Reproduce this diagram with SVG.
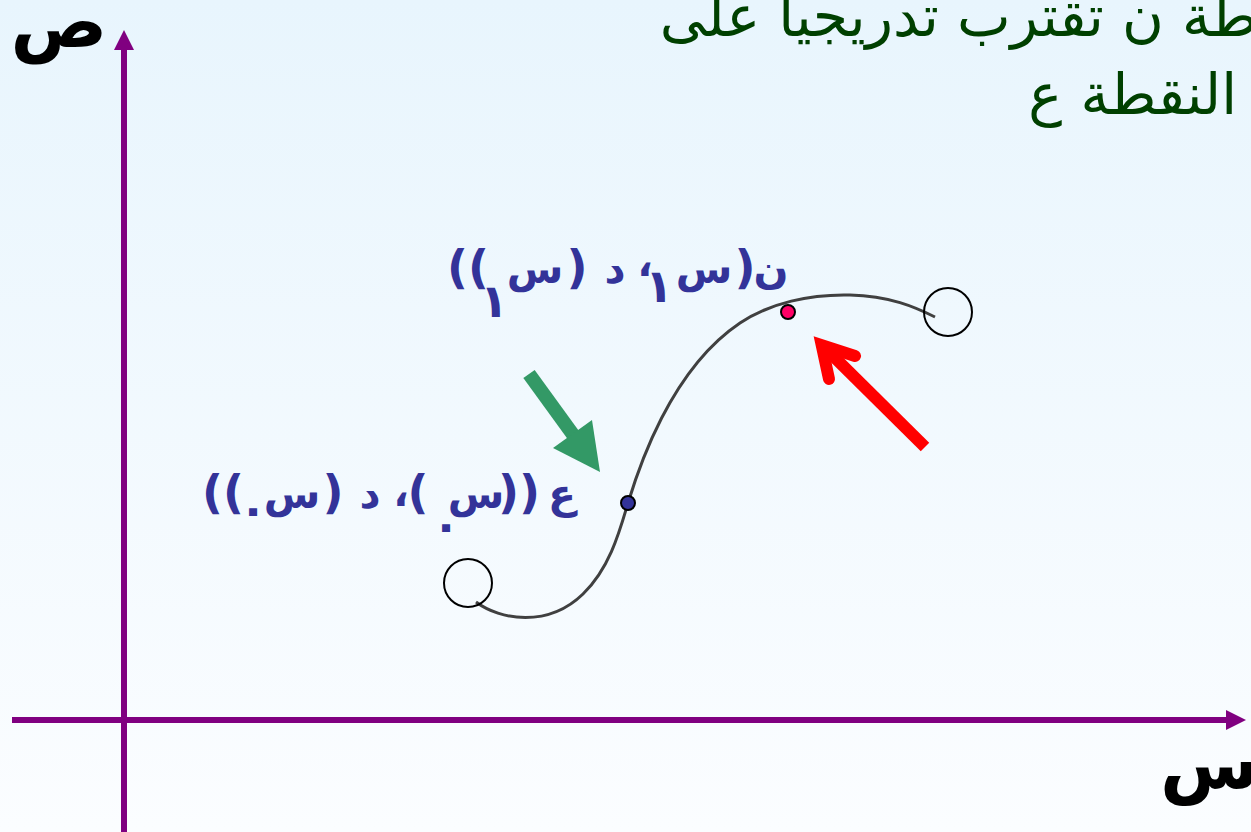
<svg xmlns="http://www.w3.org/2000/svg" width="1251" height="832" viewBox="0 0 1251 832">
  <style>
    .ar { font-family: "DejaVu Sans", "Noto Sans", sans-serif; }
    .title { font-size: 57px; fill: #004000; }
    .axislbl { font-size: 72px; font-weight: bold; fill: #000; }
    .pt { font-size: 46px; font-weight: bold; fill: #333399; text-anchor: middle; }
    .lt { font-size: 41px; }
    .axis { stroke: #800080; stroke-width: 6; fill: none; }
    .ring { fill: none; stroke: #000; stroke-width: 2; }
  </style>
  <defs>
    <linearGradient id="bg" x1="0" y1="0" x2="0" y2="1">
      <stop offset="0" stop-color="#e8f5fd"/>
      <stop offset="1" stop-color="#fbfdff"/>
    </linearGradient>
    <marker id="ah" markerUnits="userSpaceOnUse" markerWidth="20" markerHeight="20" viewBox="0 0 18 18" refX="0" refY="9" orient="auto">
      <path d="M0,0 L18,9 L0,18 Z" fill="#800080"/>
    </marker>
  </defs>
  <rect x="0" y="0" width="1251" height="832" fill="url(#bg)"/>

  <g id="title">
    <text class="ar title" x="1258" y="36" text-anchor="end">طة ن تقترب تدريجيا على</text>
    <text class="ar title" x="1237" y="114" text-anchor="end">النقطة ع</text>
  </g>

  <g id="connectors">
    <line class="axis" x1="124" y1="832" x2="124" y2="50" marker-end="url(#ah)"/>
    <line class="axis" x1="12" y1="720" x2="1226" y2="720" marker-end="url(#ah)"/>
    <path id="curve" d="M476,602 C500,620 548,628 583,594 C610,568 620,530 628,503 C638,470 670,370 740,323 C770,303 810,294 850,295 C890,296 915,307 935,317" fill="none" stroke="#404040" stroke-width="3"/>
    <g id="green-arrow" fill="#339966" stroke="none">
      <line x1="529" y1="374" x2="574" y2="436" stroke="#339966" stroke-width="14"/>
      <polygon points="600,472 553,448 592,420"/>
    </g>
    <g id="red-arrow" fill="none" stroke="#ff0000" stroke-width="12">
      <line x1="925" y1="447" x2="824" y2="347" stroke-linecap="butt"/>
      <path d="M855,356 L821.7,345.1 L829,379" stroke-linecap="round" stroke-linejoin="miter" stroke-miterlimit="10"/>
    </g>
  </g>

  <g id="axis-y-label">
    <text class="ar axislbl" x="59" y="47" text-anchor="middle">ص</text>
  </g>
  <g id="axis-x-label">
    <text class="ar axislbl" x="1160" y="789">س</text>
  </g>

  <g id="circle-start"><circle class="ring" cx="468" cy="583" r="24"/></g>
  <g id="circle-end"><circle class="ring" cx="948" cy="312" r="24"/></g>

  <g id="point-n">
    <circle cx="788" cy="312" r="7" fill="#ff0066" stroke="#000" stroke-width="2"/>
    <text class="ar pt" direction="ltr" unicode-bidi="bidi-override"><tspan x="468" y="283">((</tspan><tspan x="494" y="317">١</tspan><tspan class="lt" x="535" y="283">س</tspan><tspan x="577" y="283">)</tspan><tspan class="lt" x="615" y="283">د</tspan><tspan class="lt" x="645" y="276">،</tspan><tspan x="659" y="302">١</tspan><tspan class="lt" x="704" y="283">س</tspan><tspan x="745" y="283">)</tspan><tspan class="lt" x="771" y="283">ن</tspan></text>
  </g>

  <g id="point-a">
    <circle cx="628" cy="503" r="7" fill="#333399" stroke="#000" stroke-width="2"/>
    <text class="ar pt" direction="ltr" unicode-bidi="bidi-override"><tspan x="223" y="508">((</tspan><tspan x="253" y="525">٠</tspan><tspan class="lt" x="292" y="508">س</tspan><tspan x="333" y="508">)</tspan><tspan class="lt" x="370" y="508">د</tspan><tspan class="lt" x="401" y="506">،</tspan><tspan x="418" y="508">(</tspan><tspan x="446" y="541">٠</tspan><tspan class="lt" x="476" y="508">س</tspan><tspan x="519" y="508">))</tspan><tspan class="lt" x="562" y="508">ع</tspan></text>
  </g>
</svg>
